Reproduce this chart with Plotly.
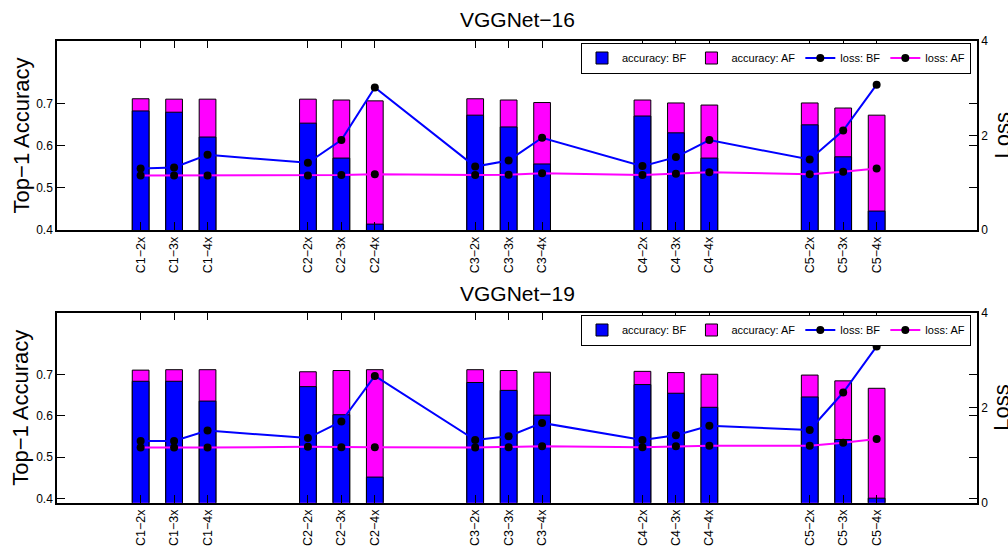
import plotly.graph_objects as go

# ---------------- data ----------------
categories = ["C1−2x", "C1−3x", "C1−4x",
              "C2−2x", "C2−3x", "C2−4x",
              "C3−2x", "C3−3x", "C3−4x",
              "C4−2x", "C4−3x", "C4−4x",
              "C5−2x", "C5−3x", "C5−4x"]

vgg16_acc_bf = [0.683, 0.680, 0.621, 0.654, 0.571, 0.414,
                0.673, 0.645, 0.557, 0.671, 0.631, 0.571,
                0.650, 0.574, 0.445]
vgg16_acc_af = [0.712, 0.711, 0.711, 0.711, 0.709, 0.707,
                0.712, 0.709, 0.703, 0.709, 0.702, 0.697,
                0.702, 0.690, 0.673]
vgg16_loss_bf = [1.30, 1.32, 1.59, 1.42, 1.90, 3.01,
                 1.34, 1.47, 1.95, 1.35, 1.54, 1.90,
                 1.49, 2.10, 3.07]
vgg16_loss_af = [1.15, 1.15, 1.15, 1.15, 1.16, 1.18,
                 1.16, 1.17, 1.20, 1.16, 1.19, 1.22,
                 1.18, 1.23, 1.30]

vgg19_acc_bf = [0.684, 0.684, 0.636, 0.671, 0.603, 0.452,
                0.681, 0.662, 0.602, 0.676, 0.655, 0.621,
                0.646, 0.543, 0.401]
vgg19_acc_af = [0.711, 0.712, 0.712, 0.707, 0.710, 0.712,
                0.712, 0.710, 0.706, 0.708, 0.705, 0.701,
                0.699, 0.685, 0.667]
vgg19_loss_bf = [1.30, 1.30, 1.52, 1.36, 1.71, 2.67,
                 1.32, 1.40, 1.68, 1.32, 1.42, 1.62,
                 1.53, 2.32, 3.29]
vgg19_loss_af = [1.16, 1.16, 1.16, 1.18, 1.17, 1.17,
                 1.16, 1.17, 1.19, 1.17, 1.19, 1.20,
                 1.20, 1.26, 1.34]

acc_ticks = [0.4, 0.5, 0.6, 0.7]
loss_ticks = [0, 2, 4]

# category positions: 3 bars per conv group, groups separated by a gap
positions = [int(c[1]) * 5 - 4 + (int(c[3]) - 2) for c in categories]

# ---------------- figure ----------------
W, H = 1008, 546
FONT = "Liberation Sans"
BLUE = "#0000FF"
MAG = "#FF00FF"


def px_x(p):
    return p / W


def px_y(p):
    return 1 - p / H


fig = go.Figure()

panels = [
    dict(bf=vgg16_acc_bf, af=vgg16_acc_af, lbf=vgg16_loss_bf, laf=vgg16_loss_af,
         x="x", y="y", y2="y3", legend="legend"),
    dict(bf=vgg19_acc_bf, af=vgg19_acc_af, lbf=vgg19_loss_bf, laf=vgg19_loss_af,
         x="x2", y="y2", y2="y4", legend="legend2"),
]

for p in panels:
    fig.add_trace(go.Bar(x=positions, y=p["af"], width=0.5, name="accuracy: AF",
                         marker=dict(color=MAG, line=dict(color="black", width=1)),
                         xaxis=p["x"], yaxis=p["y"], legend=p["legend"], legendrank=2))
    fig.add_trace(go.Bar(x=positions, y=p["bf"], width=0.5, name="accuracy: BF",
                         marker=dict(color=BLUE, line=dict(color="black", width=1)),
                         xaxis=p["x"], yaxis=p["y"], legend=p["legend"], legendrank=1))
    fig.add_trace(go.Scatter(x=positions, y=p["lbf"], mode="lines+markers", name="loss: BF",
                             line=dict(color=BLUE, width=2),
                             marker=dict(color="black", size=8),
                             xaxis=p["x"], yaxis=p["y2"], legend=p["legend"], legendrank=3))
    fig.add_trace(go.Scatter(x=positions, y=p["laf"], mode="lines+markers", name="loss: AF",
                             line=dict(color=MAG, width=2),
                             marker=dict(color="black", size=8),
                             xaxis=p["x"], yaxis=p["y2"], legend=p["legend"], legendrank=4))

xdom = [px_x(57), px_x(977)]
top_dom = [px_y(230), px_y(40.7)]
bot_dom = [px_y(502.7), px_y(312.7)]

axis_common = dict(showline=True, linecolor="black", linewidth=1.5, ticks="inside",
                   ticklen=8, tickcolor="black", showgrid=False, zeroline=False,
                   tickfont=dict(family=FONT, size=12, color="black"))

xaxis_cfg = dict(axis_common, domain=xdom, range=[-1.5, 26], tickvals=positions,
                 ticktext=categories, tickangle=-90, mirror="ticks",
                 tickfont=dict(family=FONT, size=12.5, color="black"))
yacc_cfg = dict(axis_common, tickvals=acc_ticks, ticktext=[f"{v:.1f}" for v in acc_ticks],
                mirror="ticks")
yloss_cfg = dict(axis_common, range=[0, 4], tickvals=loss_ticks, side="right")

legend_common = dict(orientation="h", x=px_x(971), xanchor="right", yanchor="top",
                     bordercolor="black", borderwidth=1, bgcolor="white",
                     font=dict(family=FONT, size=11), traceorder="normal",
                     tracegroupgap=0, itemwidth=30)

fig.update_layout(
    width=W, height=H,
    margin=dict(l=0, r=0, t=0, b=0, autoexpand=False),
    paper_bgcolor="white", plot_bgcolor="white",
    barmode="overlay",
    font=dict(family=FONT, color="black"),
    xaxis=dict(xaxis_cfg, anchor="y"),
    xaxis2=dict(xaxis_cfg, anchor="y2"),
    yaxis=dict(yacc_cfg, domain=top_dom, range=[0.4, 0.85], anchor="x"),
    yaxis2=dict(yacc_cfg, domain=bot_dom, range=[0.39, 0.85], anchor="x2"),
    yaxis3=dict(yloss_cfg, overlaying="y", anchor="x"),
    yaxis4=dict(yloss_cfg, overlaying="y2", anchor="x2"),
    legend=dict(legend_common, y=px_y(42.5)),
    legend2=dict(legend_common, y=px_y(314.5)),
    showlegend=True,
)

ann = []
for title, ty, cy in [("VGGNet−16", 20, 135.4), ("VGGNet−19", 293, 407.7)]:
    ann.append(dict(text=title, x=px_x(517), y=px_y(ty), xref="paper", yref="paper",
                    xanchor="center", yanchor="middle",
                    showarrow=False, font=dict(family=FONT, size=21)))
    ann.append(dict(text="Top−1 Accuracy", x=px_x(21), y=px_y(cy), xref="paper", yref="paper",
                    xanchor="center", yanchor="middle",
                    showarrow=False, textangle=-90, font=dict(family=FONT, size=22)))
    ann.append(dict(text="Loss", x=px_x(1002), y=px_y(cy), xref="paper", yref="paper",
                    xanchor="center", yanchor="middle",
                    showarrow=False, textangle=-90, font=dict(family=FONT, size=22)))
fig.update_layout(annotations=ann)

fig.write_html("out.html", config={"displayModeBar": False},
               post_script="document.body.style.margin='0';document.body.style.overflow='hidden';")
